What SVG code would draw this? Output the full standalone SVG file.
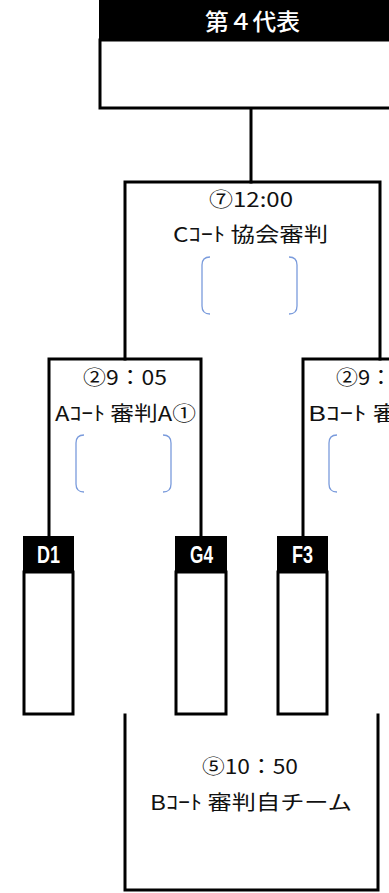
<svg xmlns="http://www.w3.org/2000/svg" width="389" height="893" viewBox="0 0 389 893">
<style>
.ln{fill:none;stroke:#000;stroke-width:3;stroke-linecap:square}
.box{fill:#fff;stroke:#000;stroke-width:3}
.hd{fill:#000}
.br{fill:none;stroke:#7a9bdc;stroke-width:1.3}
.t{font-family:"Noto Sans CJK JP","Liberation Sans",sans-serif;font-size:20px;fill:#111}
.w{font-family:"Liberation Sans","Noto Sans CJK JP",sans-serif;font-size:24px;font-weight:bold;fill:#fff}
.hdt{font-family:"Noto Sans CJK JP",sans-serif;font-size:23px;font-weight:500;fill:#fff}
</style>
<rect width="389" height="893" fill="#fff"/>
<g id="connectors">
<line class="ln" x1="251" y1="108" x2="251" y2="182"/>
<polyline class="ln" points="125,359 125,182 380,182 380,359"/>
<polyline class="ln" points="49,536 49,359 201,359 201,536"/>
<polyline class="ln" points="303,536 303,359 392,359"/>
<polyline class="ln" points="125,715 125,890 378,890 378,715"/>
</g>
<g id="final">
<rect class="hd" x="99" y="0" width="292" height="40"/>
<rect class="box" x="100" y="40" width="292" height="68"/>
<text class="hdt" x="205" y="30" textLength="95" lengthAdjust="spacingAndGlyphs">第４代表</text>
</g>
<g id="match7">
<text class="t" x="209" y="207" textLength="84" lengthAdjust="spacingAndGlyphs">⑦12:00</text>
<text class="t" x="173" y="242" textLength="155" lengthAdjust="spacingAndGlyphs">Cｺｰﾄ 協会審判</text>
<path class="br" d="M210 257 Q202 257 202 265 L202 306 Q202 314 210 314"/>
<path class="br" d="M289 257 Q297 257 297 265 L297 306 Q297 314 289 314"/>
</g>
<g id="match2a">
<text class="t" x="83" y="385" textLength="84" lengthAdjust="spacingAndGlyphs">②9：05</text>
<text class="t" x="55" y="421" textLength="141" lengthAdjust="spacingAndGlyphs">Aｺｰﾄ 審判A①</text>
<path class="br" d="M84 435 Q76 435 76 443 L76 484 Q76 492 84 492"/>
<path class="br" d="M163 435 Q171 435 171 443 L171 484 Q171 492 163 492"/>
</g>
<g id="match2b">
<text class="t" x="336" y="385" textLength="56" lengthAdjust="spacingAndGlyphs">②9：</text>
<text class="t" x="308" y="421" textLength="92" lengthAdjust="spacingAndGlyphs">Bｺｰﾄ 審</text>
<path class="br" d="M337 435 Q329 435 329 443 L329 484 Q329 492 337 492"/>
</g>
<g id="match5">
<text class="t" x="202" y="774" textLength="96" lengthAdjust="spacingAndGlyphs">⑤10：50</text>
<text class="t" x="150" y="810" textLength="202" lengthAdjust="spacingAndGlyphs">Bｺｰﾄ 審判自チーム</text>
</g>
<g id="D1">
<rect class="hd" x="23" y="536" width="51" height="36"/>
<rect class="box" x="24" y="572" width="49" height="142"/>
<text class="w" x="37" y="563" textLength="23" lengthAdjust="spacingAndGlyphs">D1</text>
</g>
<g id="G4">
<rect class="hd" x="175" y="536" width="52" height="36"/>
<rect class="box" x="176" y="572" width="50" height="142"/>
<text class="w" x="190" y="563" textLength="23" lengthAdjust="spacingAndGlyphs">G4</text>
</g>
<g id="F3">
<rect class="hd" x="277" y="536" width="51" height="36"/>
<rect class="box" x="278" y="572" width="49" height="142"/>
<text class="w" x="292" y="563" textLength="21" lengthAdjust="spacingAndGlyphs">F3</text>
</g>
</svg>
